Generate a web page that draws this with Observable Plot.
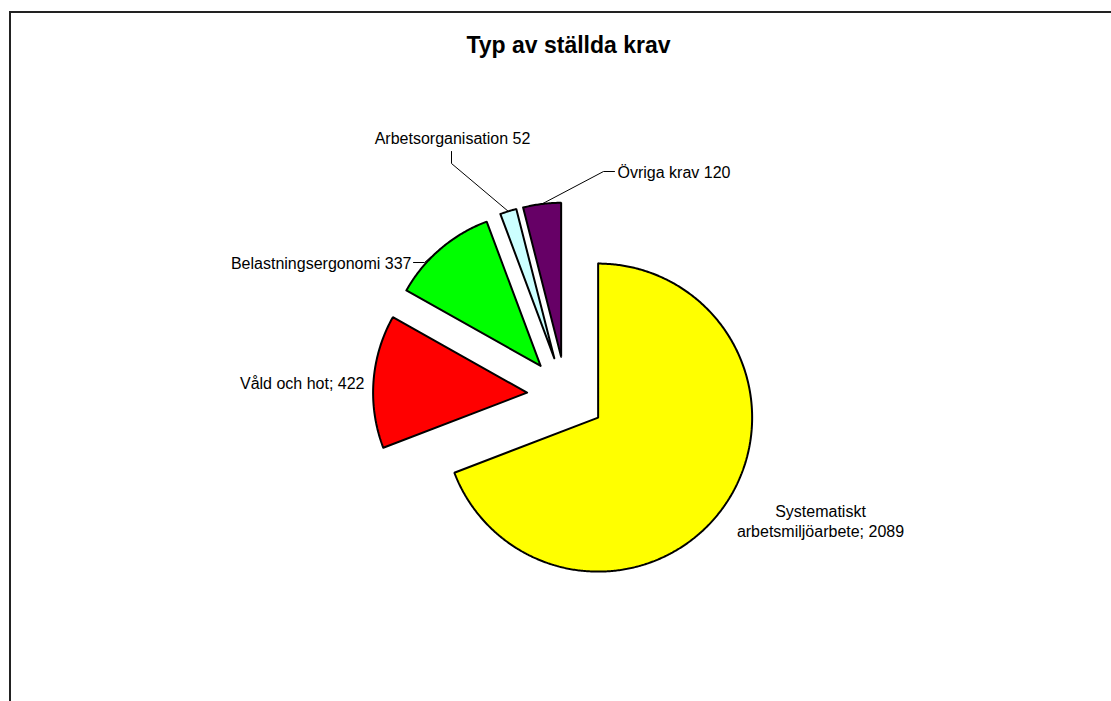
<!DOCTYPE html>
<html><head><meta charset="utf-8">
<script src="https://cdn.jsdelivr.net/npm/d3@7"></script>
<script src="https://cdn.jsdelivr.net/npm/@observablehq/plot@0.6"></script>
<style>
body{margin:0;background:#fff;}
#wrap{position:relative;width:1111px;height:701px;overflow:hidden;background:#fff;}
#box{position:absolute;left:9px;top:11px;width:1300px;height:900px;border-top:2px solid #222;border-left:2px solid #222;}
#chart{position:absolute;left:0;top:0;}
</style></head><body>
<div id="wrap"><div id="box"></div><div id="chart"></div></div>
<script>
// ---- data ----
const title = "Typ av ställda krav";
const categories = ["Systematiskt arbetsmiljöarbete", "Våld och hot", "Belastningsergonomi", "Arbetsorganisation", "Övriga krav"];
const values = [2089, 422, 337, 52, 120];
const labelTexts = ["Systematiskt\narbetsmiljöarbete; 2089", "Våld och hot; 422", "Belastningsergonomi 337", "Arbetsorganisation 52", "Övriga krav 120"];
const colors = ["#ffff00", "#ff0000", "#00ff00", "#ccffff", "#660066"];

// ---- layout (pixel-like units, y down) ----
const W = 1111, H = 701;
const cx = 565.5, cy = 395, R = 154, explode = 39;
const labelLayout = [
  {x: 820, y: 520, anchor: "middle", elbow: null},
  {x: 364, y: 382, anchor: "end", elbow: null},
  {x: 411, y: 262, anchor: "end", elbow: [[413, 262], [424, 262]]},
  {x: 452, y: 137, anchor: "middle", elbow: [[451, 151], [451, 163]]},
  {x: 617, y: 171, anchor: "start", elbow: [[614, 171], [603, 171]]}
];

const pie = d3.pie().sort(null).startAngle(0).endAngle(2 * Math.PI)(values);
const pt = (ox, oy, r, a) => ({x: ox + r * Math.sin(a), y: oy - r * Math.cos(a)});

const slices = pie.map((p, i) => {
  const mid = (p.startAngle + p.endAngle) / 2;
  const o = pt(cx, cy, explode, mid);
  const pts = [{x: o.x, y: o.y}];
  const n = Math.max(2, Math.ceil((p.endAngle - p.startAngle) / (Math.PI / 360)));
  for (let k = 0; k <= n; k++) {
    const a = p.startAngle + (p.endAngle - p.startAngle) * k / n;
    pts.push(pt(o.x, o.y, R, a));
  }
  pts.push({x: o.x, y: o.y});
  pts.push(pts[1]);
  const edge = pt(o.x, o.y, R, mid);
  return {name: categories[i], color: colors[i], pts, edge};
});

const leaders = [];
slices.forEach((s, i) => {
  const L = labelLayout[i];
  if (!L.elbow) return;
  const seq = [...L.elbow.map(([x, y]) => ({x, y})), s.edge];
  seq.forEach(p => leaders.push({...p, name: s.name}));
});

const labels = slices.map((s, i) => ({text: labelTexts[i], ...labelLayout[i]}));

const font = "'Liberation Sans', Arial, sans-serif";
const marks = [];
slices.forEach(s => {
  marks.push(Plot.line(s.pts, {x: "x", y: "y", fill: s.color, stroke: "#000", strokeWidth: 2, strokeLinejoin: "miter", curve: "linear"}));
});
marks.push(Plot.line(leaders, {x: "x", y: "y", z: "name", stroke: "#000", strokeWidth: 1}));
["start", "middle", "end"].forEach(anc => {
  marks.push(Plot.text(labels.filter(d => d.anchor === anc), {
    x: "x", y: "y", text: "text", textAnchor: anc, lineAnchor: "middle",
    fontSize: 16, lineHeight: 1.25, fill: "#000", fontFamily: font
  }));
});
marks.push(Plot.text([title], {x: () => 568, y: () => 45.5, text: d => d, fontSize: 23, fontWeight: "bold", fill: "#000", fontFamily: font, lineAnchor: "middle"}));

const chart = Plot.plot({
  width: W, height: H, margin: 0,
  x: {domain: [0, W], axis: null},
  y: {domain: [0, H], reverse: true, axis: null},
  style: {background: "transparent", overflow: "visible", fontFamily: font},
  marks
});
document.getElementById("chart").append(chart);
</script>
</body></html>
